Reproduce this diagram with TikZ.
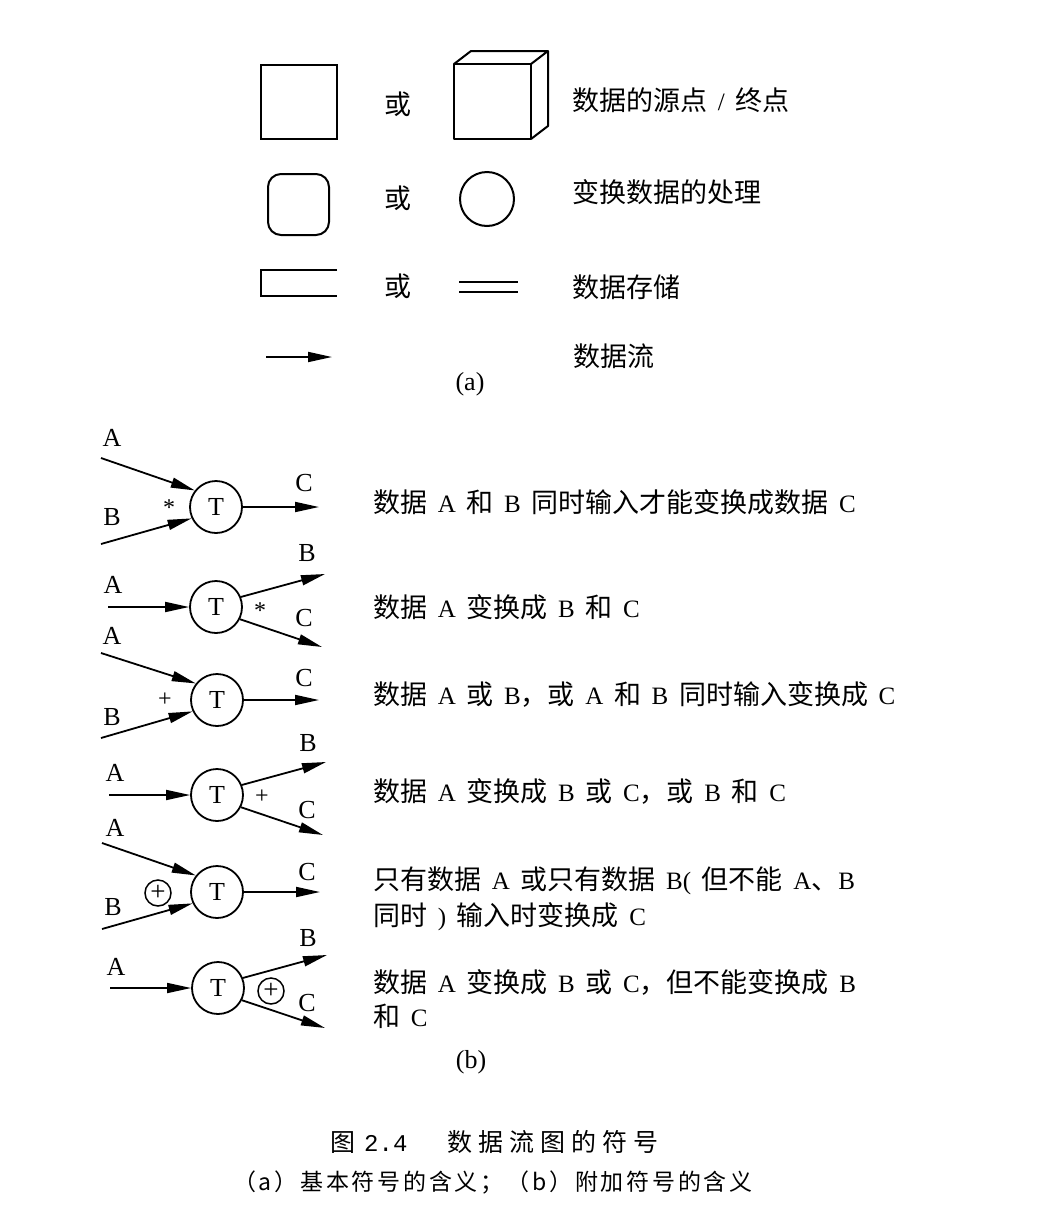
\documentclass[tikz,border=0pt]{standalone}
\usepackage{fontspec}
\setmainfont{Liberation Serif}[WordSpace=1.7]
\newfontfamily\cjk{Noto Sans CJK SC}[Scale=1.08]
\newfontfamily\capfont{Noto Sans CJK SC}[LetterSpace=24]
\newfontfamily\subcapfont{Noto Sans CJK SC}[LetterSpace=12]
\newfontfamily\capmono{Liberation Mono}
\usetikzlibrary{arrows.meta}
\tikzset{
  shp/.style={line width=2pt},
  flow/.style={line width=1.8pt,-{Triangle[length=24pt,width=10pt]}},
  tnode/.style={circle,draw,line width=1.8pt,minimum size=52pt,inner sep=0pt,font=\fontsize{26}{26}\selectfont},
  xornode/.style={circle,draw,line width=1.5pt,minimum size=26pt,inner sep=0pt,font=\fontsize{27}{27}\selectfont},
  lbl/.style={inner sep=0pt,font=\fontsize{26}{26}\selectfont},
  sym/.style={inner sep=0pt,font=\fontsize{24}{24}\selectfont},
  txt/.style={anchor=base west,inner sep=0pt,font=\fontsize{25}{25}\selectfont},
  ortxt/.style={anchor=base,inner sep=0pt,font=\fontsize{25}{25}\selectfont\cjk},
}
\begin{document}
\begin{tikzpicture}[x=1pt,y=-1pt]
\useasboundingbox (0,0) rectangle (1056,1224);

% ---------- (a) ----------
\node[shp,draw,minimum width=76pt,minimum height=74pt,inner sep=0pt] (sq) at (299,102) {};
\node[ortxt] (or1) at (398,114) {或};
\draw[shp,line join=round] (454,64) rectangle (531,139);
\draw[shp,line join=round] (454,64) -- (471,51) -- (548,51) -- (531,64);
\draw[shp,line join=round] (548,51) -- (548,126) -- (531,139);
\node[txt] (t0a) at (572,110) {{\cjk 数据的源点} / {\cjk 终点}};

\node[shp,draw,rounded corners=13pt,minimum size=61pt,inner sep=0pt] (rsq) at (298.5,204.5) {};
\node[ortxt] (or2) at (398,208) {或};
\node[shp,draw,circle,minimum size=54pt,inner sep=0pt] (circ) at (487,199) {};
\node[txt] (t0b) at (572,202) {{\cjk 变换数据的处理}};

\draw[shp] (337,270) -- (261,270) -- (261,296) -- (337,296);
\node[ortxt] (or3) at (398,296) {或};
\draw[shp] (459,282) -- (518,282);
\draw[shp] (459,292) -- (518,292);
\node[txt] (t0c) at (572,297) {{\cjk 数据存储}};

\coordinate (fa) at (266,357);
\coordinate (fb) at (332,357);
\draw[flow] (fa) -- (fb);
\node[txt] (t0d) at (573,366) {{\cjk 数据流}};
\node[lbl] (capa) at (470,384) {(a)};

% ---------- (b) ----------
% row 1
\node[tnode] (T1) at (216,507) {T};
\coordinate (a1) at (101,458);
\coordinate (b1) at (101,544);
\coordinate (c1) at (319,507);
\draw[flow] (a1) -- (T1.142);
\draw[flow] (b1) -- (T1.205);
\draw[flow] (T1) -- (c1);
\node[lbl] (la1) at (112,438) {A};
\node[lbl] (lb1) at (112,517) {B};
\node[lbl] (lc1) at (304,483) {C};
\node[sym] (s1) at (169,508) {*};
\node[txt] (t1) at (373,512) {{\cjk 数据} A {\cjk 和} B {\cjk 同时输入才能变换成数据} C};

% row 2
\node[tnode] (T2) at (216,607) {T};
\coordinate (a2) at (108,607);
\coordinate (b2) at (325,574);
\coordinate (c2) at (322,647);
\draw[flow] (a2) -- (T2);
\draw[flow] (T2.22) -- (b2);
\draw[flow] (T2.333) -- (c2);
\node[lbl] (la2) at (113,585) {A};
\node[lbl] (lb2) at (307,553) {B};
\node[lbl] (lc2) at (304,618) {C};
\node[sym] (s2) at (260,611) {*};
\node[txt] (t2) at (373,617) {{\cjk 数据} A {\cjk 变换成} B {\cjk 和} C};

% row 3
\node[tnode] (T3) at (217,700) {T};
\coordinate (a3) at (101,653);
\coordinate (b3) at (101,738);
\coordinate (c3) at (319,700);
\draw[flow] (a3) -- (T3.142);
\draw[flow] (b3) -- (T3.205);
\draw[flow] (T3) -- (c3);
\node[lbl] (la3) at (112,636) {A};
\node[lbl] (lb3) at (112,717) {B};
\node[lbl] (lc3) at (304,678) {C};
\node[sym] (s3) at (165,700) {+};
\node[txt] (t3) at (373,704) {{\cjk 数据} A {\cjk 或} B{\cjk ，或} A {\cjk 和} B {\cjk 同时输入变换成} C};

% row 4
\node[tnode] (T4) at (217,795) {T};
\coordinate (a4) at (109,795);
\coordinate (b4) at (326,762);
\coordinate (c4) at (323,835);
\draw[flow] (a4) -- (T4);
\draw[flow] (T4.22) -- (b4);
\draw[flow] (T4.333) -- (c4);
\node[lbl] (la4) at (115,773) {A};
\node[lbl] (lb4) at (308,743) {B};
\node[lbl] (lc4) at (307,810) {C};
\node[sym] (s4) at (262,797) {+};
\node[txt] (t4) at (373,801) {{\cjk 数据} A {\cjk 变换成} B {\cjk 或} C{\cjk ，或} B {\cjk 和} C};

% row 5
\node[tnode] (T5) at (217,892) {T};
\coordinate (a5) at (102,843);
\coordinate (b5) at (102,929);
\coordinate (c5) at (320,892);
\draw[flow] (a5) -- (T5.142);
\draw[flow] (b5) -- (T5.205);
\draw[flow] (T5) -- (c5);
\node[lbl] (la5) at (115,828) {A};
\node[lbl] (lb5) at (113,907) {B};
\node[lbl] (lc5) at (307,872) {C};
\node[xornode] (x5) at (158,893) {+};
\node[txt] (t5a) at (373,889) {{\cjk 只有数据} A {\cjk 或只有数据} B( {\cjk 但不能} A{\cjk 、}B};
\node[txt] (t5b) at (373,925) {{\cjk 同时} ) {\cjk 输入时变换成} C};

% row 6
\node[tnode] (T6) at (218,988) {T};
\coordinate (a6) at (110,988);
\coordinate (b6) at (327,955);
\coordinate (c6) at (325,1028);
\draw[flow] (a6) -- (T6);
\draw[flow] (T6.22) -- (b6);
\draw[flow] (T6.333) -- (c6);
\node[lbl] (la6) at (116,967) {A};
\node[lbl] (lb6) at (308,938) {B};
\node[lbl] (lc6) at (307,1003) {C};
\node[xornode] (x6) at (271,991) {+};
\node[txt] (t6a) at (373,992) {{\cjk 数据} A {\cjk 变换成} B {\cjk 或} C{\cjk ，但不能变换成} B};
\node[txt] (t6b) at (373,1026) {{\cjk 和} C};

\node[lbl] (capb) at (471,1062) {(b)};

% ---------- caption ----------
\node[anchor=base west,inner sep=0pt,font=\capfont\fontsize{25}{25}\selectfont] (fig) at (330,1151) {图};
\node[anchor=base west,inner sep=0pt,font=\capmono\fontsize{24}{24}\selectfont] (fignum) at (364,1151) {2.4};
\node[anchor=base west,inner sep=0pt,font=\capfont\fontsize{25}{25}\selectfont] (figtitle) at (447,1151) {数据流图的符号};
\node[anchor=base west,inner sep=0pt,font=\subcapfont\fontsize{23}{23}\selectfont] (subcap) at (233,1190) {（a）基本符号的含义；（b）附加符号的含义};
\end{tikzpicture}
\end{document}
